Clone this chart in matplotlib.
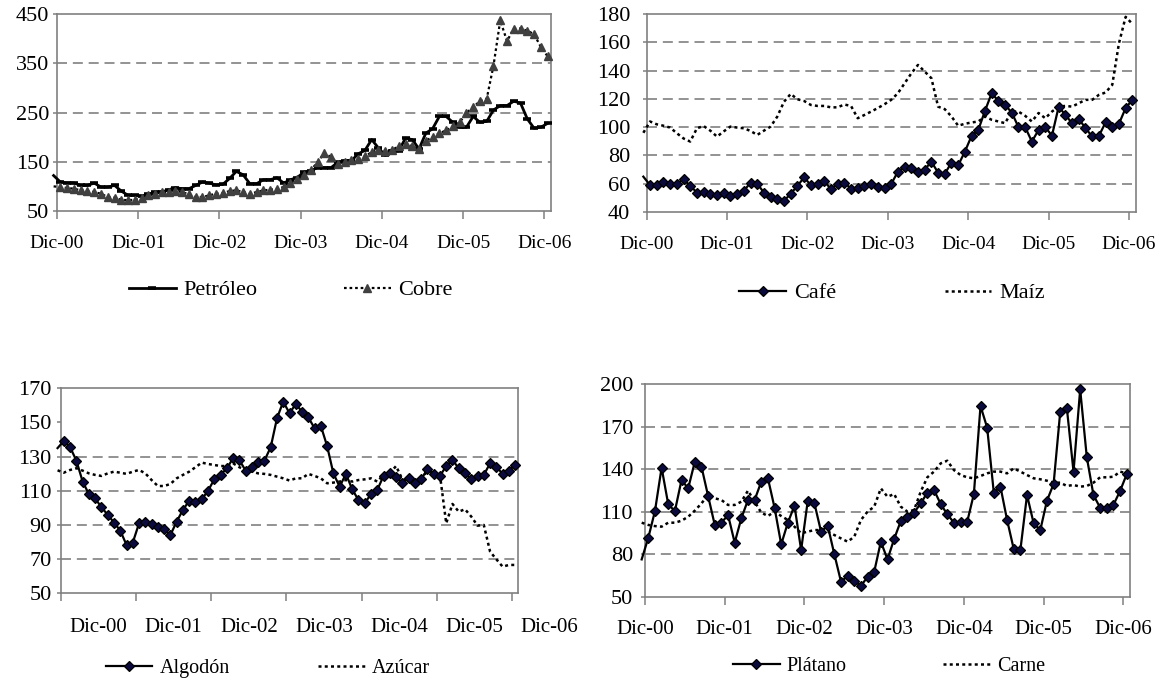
import matplotlib
matplotlib.use("Agg")
import matplotlib.pyplot as plt
import numpy as np
from matplotlib.transforms import blended_transform_factory

plt.rcParams['font.family'] = ['Liberation Serif', 'DejaVu Serif']

# Year-end labels on the monthly category axis
years = ['Dic-00', 'Dic-01', 'Dic-02', 'Dic-03', 'Dic-04', 'Dic-05', 'Dic-06']

# Monthly price indices (first value is the opening point of each line)
petroleo = [122, 108.8, 107, 107, 102, 102, 106.7, 98.6, 98.6, 102, 90.5,
            81.8, 81.8, 79.7, 83.8, 88.5, 88.5, 93.2, 97.3, 95.3, 95.3,
            102, 108.8, 106.7, 103, 104, 116, 130.4, 123.6, 105.4, 105.4,
            113.5, 113.5, 117.6, 106.7, 113.5, 118, 129, 132, 138, 138,
            138, 149, 152, 152, 166, 173, 195, 178, 163, 171,
            172, 198, 195, 176, 208, 217, 242, 242, 230, 220,
            220, 242, 230, 232, 255, 264, 264, 273, 269, 237,
            218, 220, 228]
cobre = [100, 98.6, 96.6, 95.3, 91.9, 90.5, 88.5, 85.1, 78.4, 77, 73,
         71.6, 73, 77, 81.8, 85.1, 88.5, 88.5, 90.5, 88.5, 83.8,
         78.4, 78.4, 81.8, 85.1, 86.5, 90.5, 91.9, 88.5, 85.1, 88.5,
         91.9, 93.2, 95.3, 98.6, 106.8, 115.5,
         122.3, 132.4, 149.3, 167.6, 159.5, 146, 149.3, 154, 156, 160.8,
         169.6, 174.3, 171.6, 174.3, 181, 186.5, 181, 176.4, 193, 200,
         208, 213.5, 221.6, 230, 249, 261, 273, 278, 345, 437,
         395, 420.5, 420.5, 416, 409, 383, 364]

cafe = [65, 59, 59, 61.5, 60, 60, 63, 58.6, 53.7, 54.4, 53, 52, 53.7, 51.3,
        53, 55, 60.7, 60, 53.7, 50.4, 49, 47.8, 53, 58.4, 64.5, 59, 60,
        61.7, 56.3, 60, 60.8, 56.5, 56.7, 58.4, 60, 57.5,
        56.7, 59.8, 68.5, 72, 71, 68.5, 70, 75.6, 67.8, 67, 75, 73, 82.7,
        93.8, 98, 111.5, 124, 118.5, 115.7, 110.3, 100, 100, 89.8, 98,
        100, 94, 114.5, 108.6, 102.8, 105.9, 99.3, 93.4, 93.8, 103.3,
        100, 102.4, 113.5, 119.3]
maiz = [96, 104, 102, 101, 99.7, 95.7, 92, 89.8, 99.2, 100.8, 97.5, 93.3,
        97, 100.4, 99.7, 99.2, 97.3, 94.5, 97.5, 100.4, 107.5, 118, 123.5,
        119.7, 118.5, 115.7, 115, 115, 114, 114, 116, 115, 106.3, 108.6,
        111, 113.5,
        116.2, 119.3, 124, 131, 138, 144, 139.3, 134.6, 114.5, 112.7,
        107.5, 101, 102.4, 103.3, 104, 107.5, 105.2, 104, 102.8, 111, 111,
        108, 104, 110, 106.3, 111, 114.5, 115, 114.5, 116.9, 119.3, 119.3,
        122.8, 124.5, 129.9, 159.3, 178, 173]

algodon = [135, 139.2, 135.5, 127.7, 115.4, 108, 105.6, 100.3, 96, 91.4,
           86.7, 78.3, 79.7, 91, 91.8, 90.4, 89, 87.5, 84.1, 92, 98.8,
           104.2, 103.7, 105, 110, 116.7, 119.3, 123.2, 129, 128, 121.8,
           123.8, 127, 127.7, 135.5, 152.4, 162.2, 155.4, 160.8, 156.3,
           153, 146.6, 148, 136.2, 120.2, 112.4, 119.9, 110.9, 104.6, 102.7,
           108.1, 110.5, 118.7, 120.2, 117.9, 114.8, 117.3, 114.4, 116.7,
           122.6, 119.9, 118.7, 124.5, 128, 123.2, 120.2, 116.7, 118.7,
           119.3, 126.1, 124.1, 119.9, 121.8, 125.1]
azucar = [122, 120.6, 122.2, 123.2, 121.8, 120.2, 119.3, 118.7, 120.2, 121.2,
          120.6, 119.9, 121.2, 122.2, 120.2, 116.3, 112.8, 112.8, 114, 117.3,
          119.3, 121.2, 123.8, 126.5, 125.7, 125.1, 124.5, 124.5, 126.1,
          123.8, 122.2, 121.2, 120.2, 119.9, 119.3, 118.3, 117.3, 116, 117.3,
          117.3,
          119.9, 118.7, 117.3, 114.4, 114.8, 115.4, 116.3, 115.4, 116.3,
          116.7, 117.3, 115.4, 119.3, 120.2, 124.5, 116.7, 115.4, 115.4,
          116.3, 122.2, 120.6, 119.3, 91, 102.3, 97.8, 99.2, 94.9, 89.6, 90,
          74.4, 69.9, 65.6, 66.6, 66.6]

platano = [76.3, 91.6, 110.4, 141, 115.1, 110.4, 132.3, 126.4, 145.2, 141.7,
           121, 100.6, 102.2, 107.6, 88.1, 105.3, 118.2, 118.2, 131.1, 133.5,
           112.8, 86.9, 102.2, 114.2, 82.9, 117.7, 115.8, 95.9, 100.1, 79.9,
           60.6, 64.6, 61.3, 57.5, 64.1, 67.6,
           88.8, 76.3, 90.7, 103.4, 106.4, 109.3, 115.8, 123.4, 125.2, 115.4,
           108.1, 102.2, 102.9, 102.9, 122.4, 184.5, 169.2, 123.4, 127.6,
           104.1, 83.6, 82.9, 121.7, 101.7, 97, 117.7, 129.5, 180.5, 182.8,
           138.2, 196.2, 148.3, 121.7, 112.8, 112.8, 114.7, 124.5, 136.3]
carne = [102.2, 100.6, 99.8, 99.4, 102.2, 102.2, 103.6, 106.4, 110.7, 115.8,
         121.7, 119.4, 118.2, 114.7, 114.7, 117, 124.8, 117, 109.3, 106.9,
         110, 106.9, 104.1, 99.4, 94.7, 95.9, 97, 97, 95.9, 93.5, 91.1,
         88.8, 92.3, 104.1, 110, 113.5,
         126.4, 120.5, 122.4, 113.5, 110, 111.1, 124.1, 134.2, 138.2, 144,
         145.9, 139.3, 135.8, 134.2, 133.5, 135.1, 137, 138.2, 138.2, 137,
         140.5, 138.2, 135.8, 133.5, 132.8, 131.8, 130.4, 130.4, 128.1,
         128.8, 127.6, 128.1, 130.4, 134.2, 134.2, 134.6, 138.2, 137]

W, H = 1169, 681
fig = plt.figure(figsize=(W / 100, H / 100), dpi=100)
GRAY = '#808080'
NAVY = '#0a0a3c'
DIAMOND = dict(marker='D', ms=5.0, mfc=NAVY, mec='black', mew=0.9)


def make_axes(left, top, right, bottom):
    return fig.add_axes([left / W, 1 - bottom / H, (right - left) / W, (bottom - top) / H])


def style(ax, ylim, yticks, grid_vals, tick_fs, ypad, centered_labels=False):
    ax.set_xlim(0, 73)
    ax.set_ylim(*ylim)
    for s in ax.spines.values():
        s.set_color(GRAY)
        s.set_linewidth(1.2)
    ax.set_yticks(yticks)
    ax.set_yticklabels([str(v) for v in yticks], fontsize=16)
    ax.tick_params(axis='y', direction='out', length=3, width=1.1, color=GRAY, pad=ypad)
    ticks = np.arange(0, 73, 12)
    ax.set_xticks(ticks)
    if centered_labels:
        ax.set_xticklabels([''] * len(ticks))
        tr = blended_transform_factory(ax.transData, ax.transAxes)
        for k, lab in enumerate(years):
            ax.text(ticks[k] + 6, -0.165, lab, transform=tr, ha='center', va='center',
                    fontsize=tick_fs, clip_on=False)
    else:
        ax.set_xticklabels(years, fontsize=tick_fs)
    ax.tick_params(axis='x', direction='out', length=6, width=1.1, color=GRAY, pad=11)
    for g in grid_vals:
        ax.axhline(g, color=GRAY, lw=1.2, linestyle=(0, (6, 3.5)), zorder=1)


def xpos(vals):
    return np.arange(len(vals)) - 0.5


dot = (0, (1.2, 1.3))

# Petróleo y Cobre
ax1 = make_axes(57, 14, 551, 211)
style(ax1, (50, 450), [50, 150, 250, 350, 450], [150, 250, 350], 14, 2.5)
l1, = ax1.plot(xpos(petroleo), petroleo, color='black', lw=2.0, marker='_', ms=6,
               mew=2.6, markevery=range(1, len(petroleo)), clip_on=False, zorder=3)
l2, = ax1.plot(xpos(cobre), cobre, color='black', lw=1.6, linestyle=dot, marker='^', ms=5.8,
               mfc='#404040', mec='#404040', markevery=range(1, len(cobre)),
               clip_on=False, zorder=4)
ax1.legend([l1, l2], ['Petróleo', 'Cobre'], loc='center', bbox_to_anchor=(291 / W, 1 - 290 / H),
           bbox_transform=fig.transFigure, ncol=2, frameon=False, fontsize=16,
           handlelength=2.1, handletextpad=0.35, columnspacing=3.9)

# Café y Maíz
ax2 = make_axes(646.7, 14, 1135.7, 212)
style(ax2, (40, 180), list(range(40, 181, 20)), list(range(60, 161, 20)), 14, 9)
l3, = ax2.plot(xpos(cafe), cafe, color='black', lw=1.6, markevery=range(1, len(cafe)),
               clip_on=False, zorder=4, **DIAMOND)
l4, = ax2.plot(xpos(maiz), maiz, color='black', lw=1.8, linestyle=dot, clip_on=False, zorder=3)
ax2.legend([l3, l4], ['Café', 'Maíz'], loc='center', bbox_to_anchor=(892 / W, 1 - 293 / H),
           bbox_transform=fig.transFigure, ncol=2, frameon=False, fontsize=16,
           handlelength=2.1, handletextpad=0.35, columnspacing=4.9)

# Algodón y Azúcar
ax3 = make_axes(60.7, 388.3, 518.3, 593.3)
style(ax3, (50, 170), list(range(50, 171, 20)), [70, 90, 110, 130], 15, 3.5, centered_labels=True)
l5, = ax3.plot(xpos(algodon), algodon, color='black', lw=1.6, markevery=range(1, len(algodon)),
               clip_on=False, zorder=4, **DIAMOND)
l6, = ax3.plot(xpos(azucar), azucar, color='black', lw=1.8, linestyle=dot, clip_on=False, zorder=3)
ax3.legend([l5, l6], ['Algodón', 'Azúcar'], loc='center', bbox_to_anchor=(268 / W, 1 - 668 / H),
           bbox_transform=fig.transFigure, ncol=2, frameon=False, fontsize=14.5,
           handlelength=2.3, handletextpad=0.35, columnspacing=4.4)

# Plátano y Carne
ax4 = make_axes(645, 384, 1130, 596.7)
style(ax4, (50, 200), list(range(50, 201, 30)), [80, 110, 140, 170], 15, 5.6)
l7, = ax4.plot(xpos(platano), platano, color='black', lw=1.6, markevery=range(1, len(platano)),
               clip_on=False, zorder=4, **DIAMOND)
l8, = ax4.plot(xpos(carne), carne, color='black', lw=1.8, linestyle=dot, clip_on=False, zorder=3)
ax4.legend([l7, l8], ['Plátano', 'Carne'], loc='center', bbox_to_anchor=(889 / W, 1 - 666 / H),
           bbox_transform=fig.transFigure, ncol=2, frameon=False, fontsize=14.5,
           handlelength=2.3, handletextpad=0.35, columnspacing=4.8)

fig.savefig('out.png', dpi=100)
